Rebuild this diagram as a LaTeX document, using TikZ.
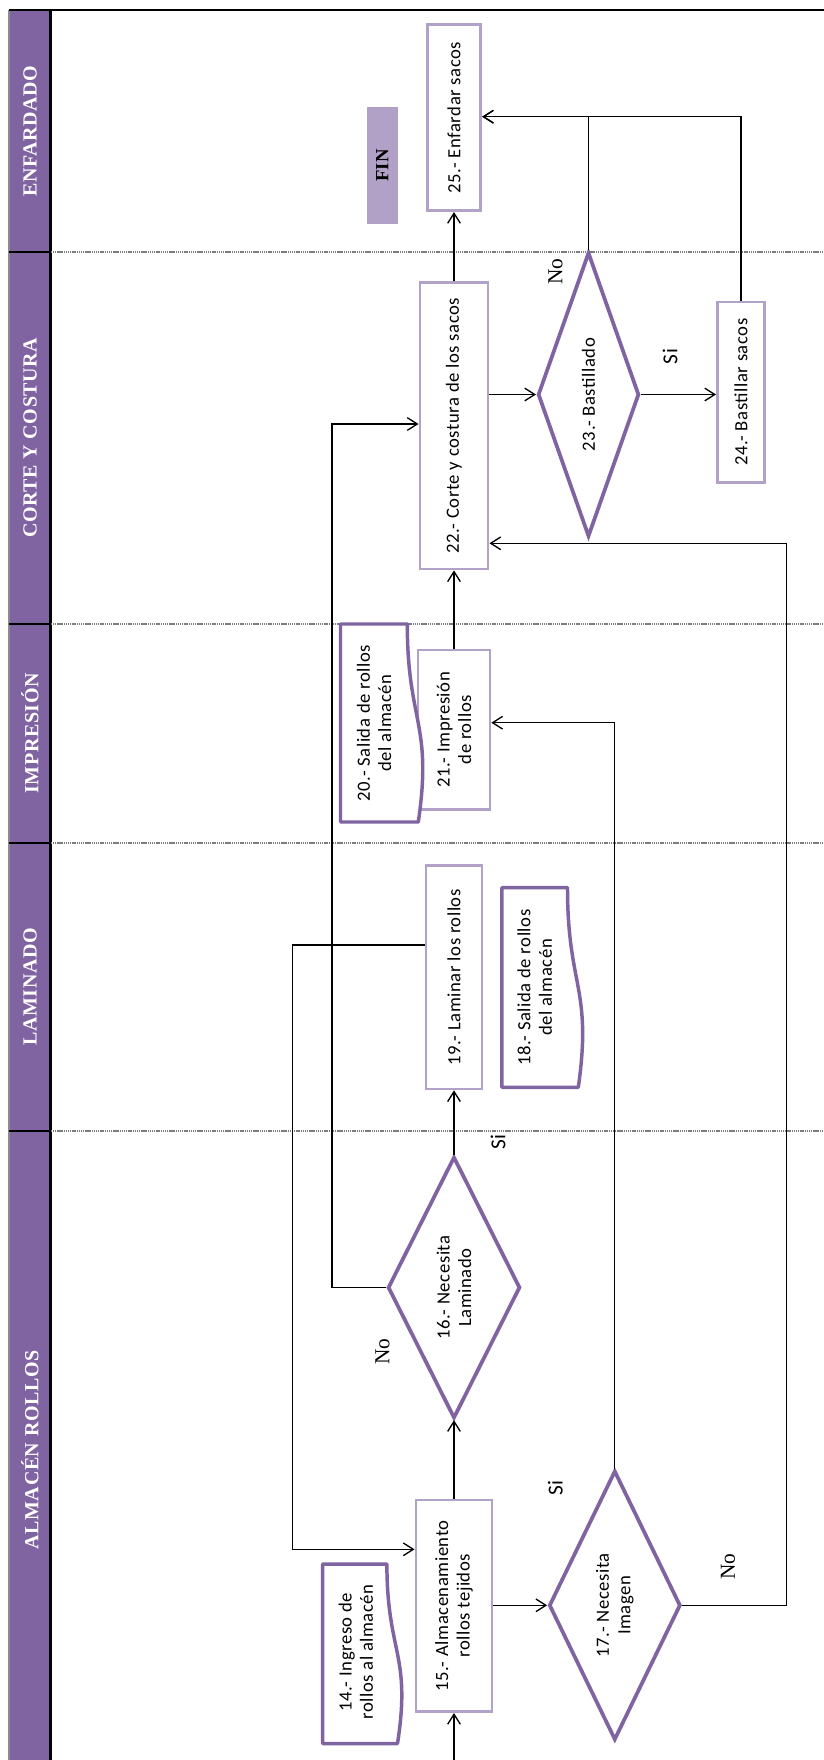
\documentclass[tikz,border=0pt]{standalone}
\usepackage{fontspec}
\setmainfont{Liberation Serif}
\newfontfamily\boxfont{Carlito}[LetterSpace=3]
\newfontfamily\headfont{Liberation Serif}[LetterSpace=3]
\usetikzlibrary{shapes.geometric,arrows.meta}
\definecolor{lanepurple}{RGB}{128,100,162}
\definecolor{lightpurple}{RGB}{179,162,199}
\definecolor{finpurple}{RGB}{178,161,199}
\definecolor{sepgray}{RGB}{125,125,125}
\tikzset{
  procbox/.style={draw=lightpurple, line width=2pt, fill=white, rectangle, inner sep=0pt},
  decision/.style={draw=lanepurple, line width=2.8pt, fill=white, diamond, shape aspect=0.5, inner sep=0pt},
  docline/.style={draw=lanepurple, line width=2.6pt, fill=white, line join=round},
  boxtext/.style={rotate=90, align=center, font=\boxfont\fontsize{14}{16}\selectfont, inner sep=0pt},
  lanetitle/.style={rotate=90, text=white, font=\headfont\bfseries\fontsize{15}{17}\selectfont, inner sep=0pt},
  flow/.style={line width=1pt, -{Straight Barb[length=7.5pt,width=9.5pt,line width=1pt]}},
  sep/.style={draw=sepgray, line width=1.4pt, dash pattern=on 0.9pt off 0.5pt},
  sino/.style={rotate=90, font=\boxfont\fontsize{16}{18}\selectfont, inner sep=0pt},
  nolabel/.style={rotate=90, font=\fontsize{16}{18}\selectfont, inner sep=0pt},
}
\begin{document}
\begin{tikzpicture}[x=0.75pt,y=-0.75pt]
\useasboundingbox (0,0) rectangle (824,1760);
\fill[white] (0,0) rectangle (824,1760);

% lane header band
\fill[lanepurple] (9,10) rectangle (51,1760);
\draw[black!45, line width=0.8pt] (9,10) -- (9,1760);
\draw[black, line width=2.2pt] (50.5,10) -- (50.5,1760);
\draw[black, line width=1.6pt] (9,10) -- (824,10);
\foreach \yy in {252,624,843.3,1131}{
  \draw[black, line width=1.6pt] (9,\yy) -- (51,\yy);
  \draw[sep] (51,\yy) -- (824,\yy);
}
\node[lanetitle] (h1) at (30,131) {ENFARDADO};
\node[lanetitle] (h2) at (30,437.7) {CORTE Y COSTURA};
\node[lanetitle] (h3) at (30,733.3) {IMPRESIÓN};
\node[lanetitle] (h4) at (30,986.7) {LAMINADO};
\node[lanetitle] (h5) at (30,1450) {ALMACÉN ROLLOS};

% process boxes
\node[procbox, minimum width=40.2pt, minimum height=139.8pt] (p25) at (454,117.5) {};
\node[procbox, minimum width=51.2pt, minimum height=215pt] (p22) at (454,425.7) {};
\node[procbox, minimum width=35.5pt, minimum height=135.2pt] (p24) at (741,392.2) {};
\node[procbox, minimum width=54pt, minimum height=119.5pt] (p21) at (454,729.7) {};
\node[procbox, minimum width=42.2pt, minimum height=167.5pt] (p19) at (454,977.3) {};
\node[procbox, minimum width=57.2pt, minimum height=158.8pt] (p15) at (454,1605.8) {};

% decisions
\node[decision, minimum width=76pt, minimum height=213.3pt] (d23) at (588.5,394.5) {};
\node[decision, minimum width=99.3pt, minimum height=196.2pt] (d16) at (454,1287.5) {};
\node[decision, minimum width=98.7pt, minimum height=202pt] (d17) at (614.8,1605.3) {};

% documents (wavy edge on the right)
\draw[docline] (340.5,822) -- (340.5,624) -- (407.3,624)
  .. controls (407.3,723) and (432.8,723) .. (418.3,822) -- cycle;
\draw[docline] (501.8,1087.3) -- (501.8,887.7) -- (567.5,887.7)
  .. controls (567.5,987.5) and (592.5,987.5) .. (578.3,1087.3) -- cycle;
\draw[docline] (322.6,1743.5) -- (322.6,1564) -- (386.9,1564)
  .. controls (386.9,1653.7) and (411.5,1653.7) .. (397.5,1743.5) -- cycle;

% end marker
\node[fill=finpurple, minimum width=23.3pt, minimum height=87.3pt, inner sep=0pt] (fin) at (382.3,165.5) {};
\node[rotate=90, font=\bfseries\fontsize{14}{16}\selectfont, inner sep=0pt] (fintext) at (fin) {FIN};

% texts
\node[boxtext] (t25) at (p25) {25.- Enfardar sacos};
\node[boxtext] (t22) at (p22) {22.- Corte y costura de los sacos};
\node[boxtext] (t24) at (p24) {24.- Bastillar sacos};
\node[boxtext] (t21) at (p21) {21.- Impresión\\de rollos};
\node[boxtext] (t19) at (p19) {19.- Laminar los rollos};
\node[boxtext] (t15) at (p15) {15.- Almacenamiento\\rollos tejidos};
\node[boxtext] (t23) at (d23) {23.- Bastillado};
\node[boxtext] (t16) at (d16) {16.- Necesita\\Laminado};
\node[boxtext] (t17) at (d17) {17.- Necesita\\Imagen};
\node[boxtext] (t20) at (374,723) {20.- Salida de rollos\\del almacén};
\node[boxtext] (t18) at (534.7,987.5) {18.- Salida de rollos\\del almacén};
\node[boxtext] (t14) at (355.8,1652) {14.- Ingreso de\\rollos al almacén};

% bend points
\coordinate (start) at (454,1760);
\coordinate (b19) at (292.7,945);
\coordinate (b15) at (292.7,1549.3);
\coordinate (b16) at (332,424);
\coordinate (b21) at (614.8,722.7);
\coordinate (b22) at (786.6,543.3);
\coordinate (b25) at (741,116.7);

% connectors
\draw[flow] (start) -- (p15.south);
\draw[flow] (p15.north) -- (d16.south);
\draw[flow] (d16.north) -- (p19.south);
\draw[flow] (d16.west) -| (b16) -- (p22.west |- b16);
\draw[flow] (p19.west |- b19) -- (b19) -- (b15) -- (p15.west |- b15);
\draw[flow] (p15.east |- d17.west) -- (d17.west);
\draw[flow] (d17.north) |- (p21.east |- b21);
\draw[flow] (d17.east) -| (b22) -- (p22.east |- b22);
\draw[flow] (p21.north) -- (p22.south);
\draw[flow] (p22.east |- d23.west) -- (d23.west);
\draw[flow] (d23.east) -- (p24.west |- d23.east);
\draw[flow] (p22.north) -- (p25.south);
\draw[flow] (d23.north) |- (p25.east |- b25);
\draw[flow] (p24.north) |- (p25.east |- b25);

% branch labels
\node[sino] (si16) at (498,1142) {Si};
\node[nolabel] (no16) at (382.6,1351.7) {No};
\node[sino] (si17) at (555.4,1488.3) {Si};
\node[nolabel] (no17) at (728,1566.7) {No};
\node[nolabel] (no23) at (555.4,271.7) {No};
\node[sino] (si23) at (670,356.7) {Si};
\end{tikzpicture}
\end{document}
